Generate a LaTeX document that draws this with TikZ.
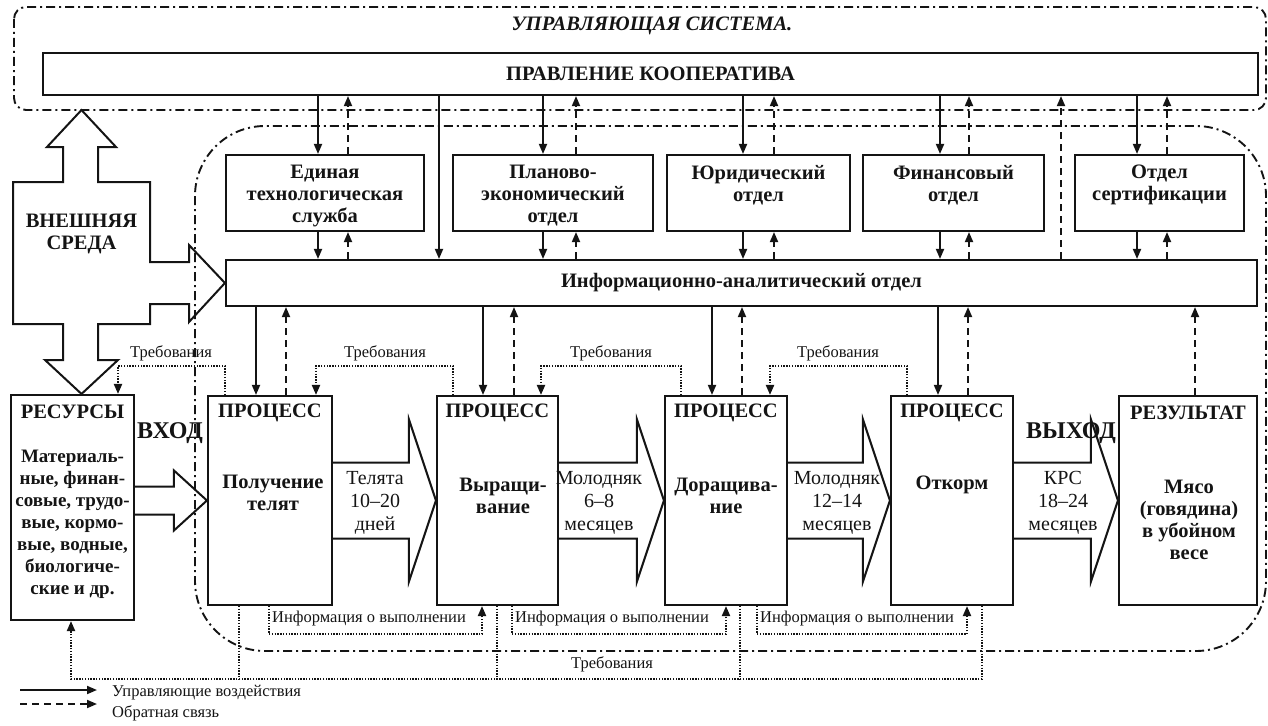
\documentclass[tikz,border=0pt]{standalone}
\usepackage{fontspec}
\setmainfont{Liberation Serif}
\usepackage{tikz}
\usetikzlibrary{arrows.meta,calc}

\begin{document}
\begin{tikzpicture}[x=1pt, y=-1pt,
		box/.style={draw={INK}, line width={2.1pt}, inner sep={0pt}},
		block/.style={draw={INK}, line width={2pt}, line join=miter},
		boldtxt/.style={font={\bfseries\fontsize{20.5}{22}\selectfont}, align=center, inner sep={0pt}, text={INK}},
		restxt/.style={font={\bfseries\fontsize{19}{22}\selectfont}, align=center, inner sep={0pt}, text={INK}},
		regtxt/.style={font={\fontsize{20}{23}\selectfont}, align=center, inner sep={0pt}, text={INK}},
		smalltxt/.style={font={\fontsize{16.5}{18}\selectfont}, inner sep={0pt}, text={INK}},
		bigtxt/.style={font={\bfseries\fontsize{24}{26}\selectfont}, inner sep={0pt}, text={INK}},
		titletxt/.style={font={\bfseries\itshape\fontsize{20.5}{22}\selectfont}, inner sep={0pt}, text={INK}},
		ctrl/.style={draw={INK}, line width={1.8pt}, -{Triangle[length=10pt, width=8pt]}},
		fb/.style={ctrl, dash pattern=on 7pt off 5pt},
		req/.style={draw={INK}, line width={2pt}, dash pattern=on 1.4pt off 1.4pt},
		reqarrow/.style={req, -{Triangle[length=10pt, width=8pt]}},
		region/.style={draw={INK}, line width={1.9pt}, dash pattern=on 9pt off 4pt on 2pt off 4pt}
	]
	\definecolor{INK}{RGB}{20, 20, 20}
	\useasboundingbox (0,0) rectangle (1268,725);

	% control system and managed system
	\draw[region, rounded corners={12pt}] (14,7) rectangle (1266,110);
	\draw[region, rounded corners={70pt}] (195,126) rectangle (1266,651);
	\node[titletxt] (ctrlsys) at (652,26) {УПРАВЛЯЮЩАЯ СИСТЕМА.};

	% upper level
	\node[box, boldtxt, minimum width={1215pt}, minimum height={42pt}] (board) at (650.5,74) {ПРАВЛЕНИЕ КООПЕРАТИВА};
	\foreach \n/\cx/\w in {d1/325/198, d2/553/200, d3/758.5/183, d4/953.5/181, d5/1159.5/169}
		\node[box, minimum width={\w pt}, minimum height={76pt}] (\n) at (\cx,193) {};
	\node[boldtxt, anchor=north] (d1txt) at (325,165) {Единая\\технологическая\\служба};
	\node[boldtxt, anchor=north] (d2txt) at (553,165) {Планово-\\экономический\\отдел};
	\node[boldtxt, anchor=north] (d3txt) at (758.5,165) {Юридический\\отдел};
	\node[boldtxt, anchor=north] (d4txt) at (953.5,165) {Финансовый\\отдел};
	\node[boldtxt, anchor=north] (d5txt) at (1159.5,165) {Отдел\\сертификации};
	\node[box, boldtxt, minimum width={1031pt}, minimum height={46pt}] (info) at (741.5,283) {Информационно-аналитический отдел};

	% processes
	\node[box, minimum width={123pt}, minimum height={225pt}] (res) at (72.5,507.5) {};
	\foreach \n/\cx/\w in {p1/270/124, p2/497.5/121, p3/726/122, p4/952/122}
		\node[box, minimum width={\w pt}, minimum height={209pt}] (\n) at (\cx,500.5) {};
	\node[box, minimum width={138pt}, minimum height={209pt}] (result) at (1188,500.5) {};
	\foreach \n in {p1,p2,p3,p4}
		\node[boldtxt] (\n head) at ($(\n.north)+(0,18)$) {ПРОЦЕСС};
	\node[boldtxt] (reshead) at ($(res.north)+(0,18)$) {РЕСУРСЫ};
	\node[boldtxt] (resulthead) at ($(result.north)+(0,18)$) {РЕЗУЛЬТАТ};
	\node[restxt] (restext) at (72.5,524) {Материаль-\\ные, финан-\\совые, трудо-\\вые, кормо-\\вые, водные,\\биологиче-\\ские и др.};
	\node[boldtxt] (p1text) at (273,493) {Получение\\телят};
	\node[boldtxt] (p2text) at (503,496) {Выращи-\\вание};
	\node[boldtxt] (p3text) at (726,496) {Доращива-\\ние};
	\node[boldtxt] (p4text) at (952,485) {Откорм};
	\node[boldtxt] (resulttext) at (1189,520) {Мясо\\(говядина)\\в убойном\\весе};

	% external environment
	\draw[block] (13,182) -- (63,182) -- (63,147) -- (47,147) -- (81.5,110) -- (116,147) -- (98,147) -- (98,182)
		-- (150,182) -- (150,262) -- (189,262) -- (189,245) -- (info.west) -- (189,322) -- (189,304) -- (150,304)
		-- (150,324) -- (98,324) -- (98,360) -- (118,360) -- (res.north -| 81.5,0) -- (45,360) -- (63,360) -- (63,324)
		-- (13,324) -- cycle;
	\node[boldtxt] (extenv) at (81.5,233.5) {ВНЕШНЯЯ\\СРЕДА};

	% flow of the product
	\draw[block] ($(res.east |- p1.west)+(0,-14)$) -- ($(p1.west)+(-33,-14)$) -- ($(p1.west)+(-33,-30)$) -- (p1.west)
		-- ($(p1.west)+(-33,30)$) -- ($(p1.west)+(-33,14)$) -- ($(res.east |- p1.west)+(0,14)$);
	\foreach \a/\b in {p1/p2, p2/p3, p3/p4, p4/result}
		\draw[block] ($(\a.east)+(0,-38)$) -- ($(\b.west)+(-27,-38)$) -- ($(\b.west)+(-27,-81)$) -- (\b.west)
			-- ($(\b.west)+(-27,81)$) -- ($(\b.west)+(-27,38)$) -- ($(\a.east)+(0,38)$);
	\node[bigtxt] (inlabel) at (170,433) {ВХОД};
	\node[bigtxt] (outlabel) at (1071,433) {ВЫХОД};
	\node[regtxt] (flow1) at (375,503) {Телята\\10–20\\дней};
	\node[regtxt] (flow2) at (599,503) {Молодняк\\6–8\\месяцев};
	\node[regtxt] (flow3) at (837,503) {Молодняк\\12–14\\месяцев};
	\node[regtxt] (flow4) at (1063,503) {КРС\\18–24\\месяцев};

	% control and feedback
	\foreach \n/\xs/\xd in {d1/318/348, d2/543/576, d3/743/774, d4/940/969, d5/1137/1167} {
		\draw[ctrl] (board.south -| \xs,0) -- (\n.north -| \xs,0);
		\draw[fb] (\n.north -| \xd,0) -- (board.south -| \xd,0);
		\draw[ctrl] (\n.south -| \xs,0) -- (info.north -| \xs,0);
		\draw[fb] (info.north -| \xd,0) -- (\n.south -| \xd,0);
	}
	\draw[ctrl] (board.south -| 439,0) -- (info.north -| 439,0);
	\draw[fb] (info.north -| 1061,0) -- (board.south -| 1061,0);
	\foreach \n/\xs/\xd in {p1/256/286, p2/483/514, p3/712/742, p4/938/968} {
		\draw[ctrl] (info.south -| \xs,0) -- (\n.north -| \xs,0);
		\draw[fb] (\n.north -| \xd,0) -- (info.south -| \xd,0);
	}
	\draw[fb] (result.north -| 1195,0) -- (info.south -| 1195,0);

	% requirements and performance information
	\coordinate (reqtop) at (0,366);
	\coordinate (infoline) at (0,634);
	\coordinate (reqline) at (0,679);
	\foreach \a/\b/\xa/\xb/\lx in {p1/res/225/118/171, p2/p1/453/316/385, p3/p2/681/541/611, p4/p3/907/770/838} {
		\draw[reqarrow] (\a.north -| \xa,0) |- (reqtop -| \xb,0) -- (\b.north -| \xb,0);
		\node[smalltxt] (req\a) at (\lx,353) {Требования};
	}
	\foreach \a/\b/\xa/\xb in {p1/p2/269/482, p2/p3/512/726, p3/p4/757/967} {
		\draw[reqarrow] (\a.south -| \xa,0) |- (infoline -| \xb,0) -- (\b.south -| \xb,0);
		\node[smalltxt, anchor=west] (inf\a) at (\xa+3,619) {Информация о выполнении};
	}
	\draw[reqarrow] (p4.south -| 982,0) |- (reqline -| 71,0) -- (res.south -| 71,0);
	\foreach \n/\xv in {p1/239, p2/497, p3/740}
		\draw[req] (\n.south -| \xv,0) -- (reqline -| \xv,0);
	\node[smalltxt] (reqbottom) at (612,664) {Требования};

	% legend
	\coordinate (lgctrlA) at (20,690);
	\coordinate (lgctrlB) at (97,690);
	\coordinate (lgfbA) at (20,704);
	\coordinate (lgfbB) at (97,704);
	\draw[ctrl] (lgctrlA) -- (lgctrlB);
	\draw[fb] (lgfbA) -- (lgfbB);
	\node[smalltxt, anchor=west] (lgctrl) at (112,693) {Управляющие воздействия};
	\node[smalltxt, anchor=west] (lgfb) at (112,713) {Обратная связь};
\end{tikzpicture}
\end{document}
